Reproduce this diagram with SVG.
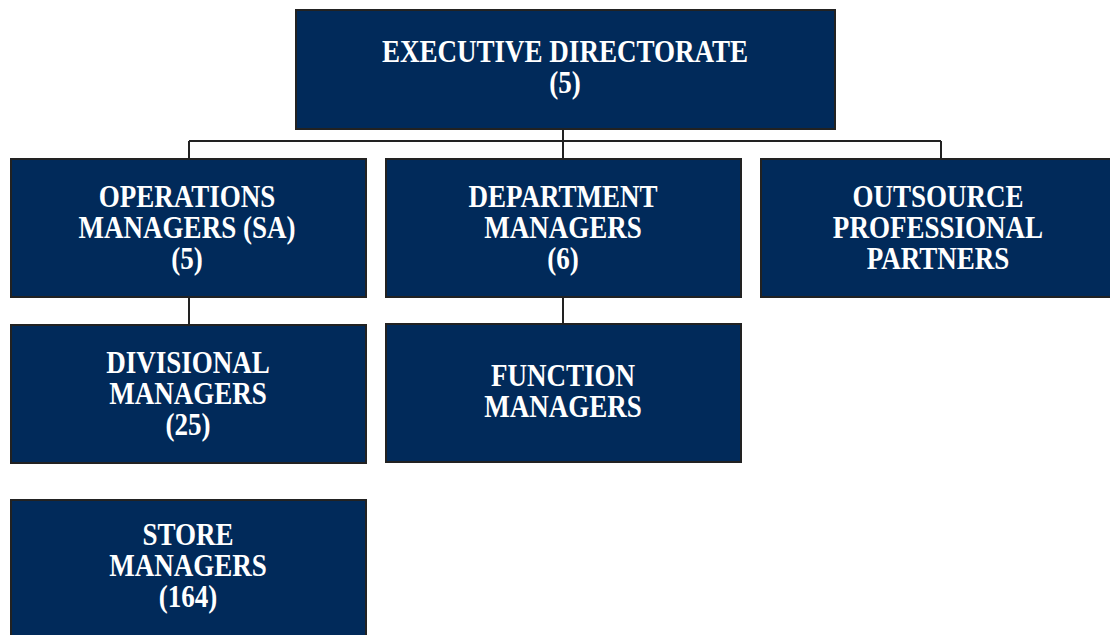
<svg xmlns="http://www.w3.org/2000/svg" width="1110" height="635" viewBox="0 0 1110 635">
  <style>
    .box { fill: #012a5a; stroke: #222222; stroke-width: 2; }
    .lbl { font-family: "Liberation Serif", "Times New Roman", serif; font-weight: bold; font-size: 32px; fill: #ffffff; text-anchor: middle; }
    .conn { stroke: #222222; stroke-width: 2; fill: none; }
  </style>
  <rect width="1110" height="635" fill="#ffffff"/>

  <!-- reporting lines -->
  <g id="connectors">
    <path class="conn" d="M563 129 V141 M189 141 H941 M189 141 V159 M563 141 V159 M941 141 V159"/>
    <path class="conn" d="M189 297 V325"/>
    <path class="conn" d="M563 297 V330"/>
  </g>

  <g id="executive">
    <rect class="box" x="296" y="10" width="539" height="119"/>
    <text class="lbl" transform="translate(565 0) scale(0.845 1)"><tspan x="0" y="62">EXECUTIVE DIRECTORATE</tspan><tspan x="0" y="93">(5)</tspan></text>
  </g>

  <g id="operations">
    <rect class="box" x="11" y="159" width="355" height="138"/>
    <text class="lbl" transform="translate(187 0) scale(0.845 1)"><tspan x="0" y="207">OPERATIONS</tspan><tspan x="0" y="238">MANAGERS (SA)</tspan><tspan x="0" y="269">(5)</tspan></text>
  </g>

  <g id="department">
    <rect class="box" x="386" y="159" width="355" height="138"/>
    <text class="lbl" transform="translate(563 0) scale(0.845 1)"><tspan x="0" y="207">DEPARTMENT</tspan><tspan x="0" y="238">MANAGERS</tspan><tspan x="0" y="269">(6)</tspan></text>
  </g>

  <g id="outsource">
    <rect class="box" x="761" y="159" width="360" height="138"/>
    <text class="lbl" transform="translate(938 0) scale(0.845 1)"><tspan x="0" y="207">OUTSOURCE</tspan><tspan x="0" y="238">PROFESSIONAL</tspan><tspan x="0" y="269">PARTNERS</tspan></text>
  </g>

  <g id="divisional">
    <rect class="box" x="11" y="325" width="355" height="138"/>
    <text class="lbl" transform="translate(188 0) scale(0.845 1)"><tspan x="0" y="373">DIVISIONAL</tspan><tspan x="0" y="404">MANAGERS</tspan><tspan x="0" y="435">(25)</tspan></text>
  </g>

  <g id="function">
    <rect class="box" x="386" y="324" width="355" height="138"/>
    <text class="lbl" transform="translate(563 0) scale(0.845 1)"><tspan x="0" y="386">FUNCTION</tspan><tspan x="0" y="417">MANAGERS</tspan></text>
  </g>

  <g id="store">
    <rect class="box" x="11" y="500" width="355" height="145"/>
    <text class="lbl" transform="translate(188 0) scale(0.845 1)"><tspan x="0" y="545">STORE</tspan><tspan x="0" y="576">MANAGERS</tspan><tspan x="0" y="607">(164)</tspan></text>
  </g>
</svg>
